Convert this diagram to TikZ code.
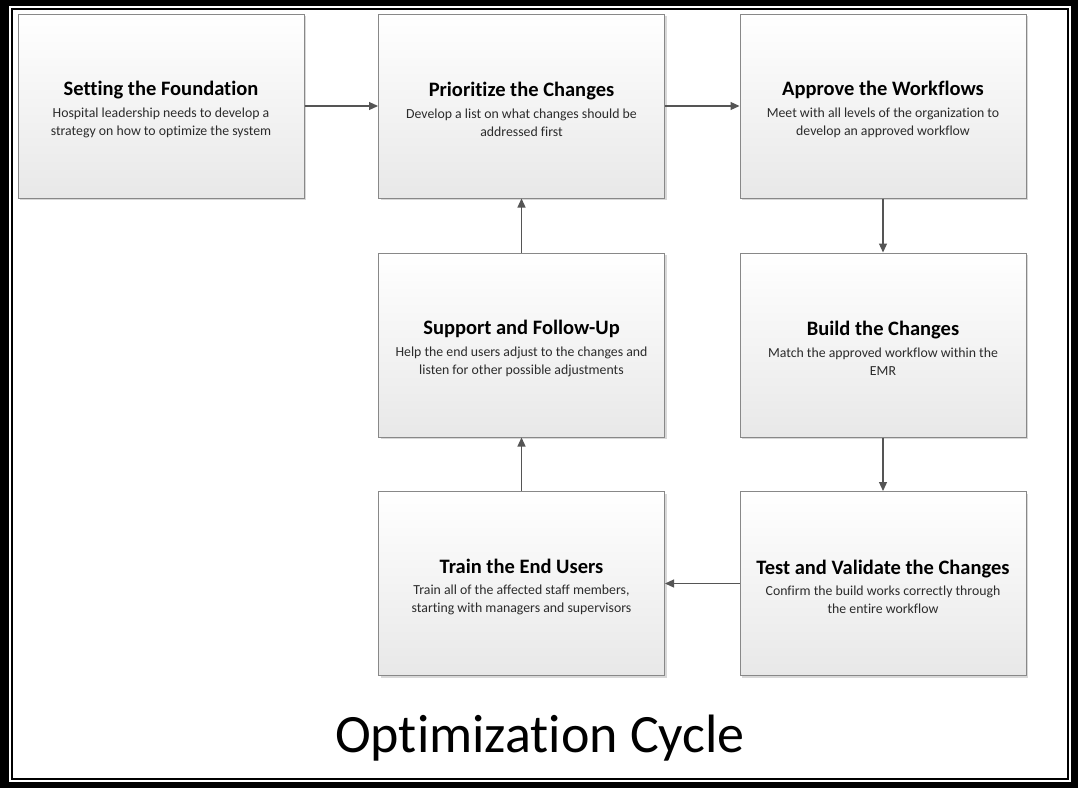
\documentclass[tikz,border=0pt]{standalone}
\usepackage{fontspec}
\setmainfont{Carlito}[Ligatures={NoCommon}]
\usetikzlibrary{arrows.meta,shadows}
\definecolor{boxedge}{HTML}{888888}
\definecolor{boxbot}{HTML}{E8E8E8}
\definecolor{bodytext}{HTML}{2B2B2B}
\definecolor{arrowcol}{HTML}{555555}
\begin{document}
\begin{tikzpicture}[x=1pt,y=-1pt,
  stepbox/.style={draw=boxedge, line width=1pt, top color=white, bottom color=boxbot,
    minimum width=286pt, minimum height=184pt, inner sep=0pt, align=center,
    text=bodytext, font=\fontsize{13.8}{18}\selectfont,
    drop shadow={shadow xshift=2pt, shadow yshift=-2pt, fill=black!30, opacity=0.5}},
  flow/.style={draw=arrowcol, line width=1.2pt, -{Triangle[length=9pt,width=8pt]}}
]
\useasboundingbox (0,0) rectangle (1078,788);
% frame
\fill[black] (0,0) rectangle (1078,788);
\fill[white] (9,6) rectangle (1071,782);
\draw[black, line width=2pt] (12,9) rectangle (1068,778.5);
\newcommand{\ttlf}[1]{{\fontsize{20.5}{22}\selectfont\bfseries\color{black}\rule{0pt}{21pt}#1}}
% boxes
\node[stepbox] (found) at (161,106) {\ttlf{Setting the Foundation}\\[3.5pt]Hospital leadership needs to develop a\\strategy on how to optimize the system};
\node[stepbox] (prio) at (521.5,106) {\ttlf{Prioritize the Changes}\\[3.5pt]Develop a list on what changes should be\\addressed first};
\node[stepbox] (appr) at (883,106) {\ttlf{Approve the Workflows}\\[3.5pt]Meet with all levels of the organization to\\develop an approved workflow};
\node[stepbox] (supp) at (521.5,345) {\ttlf{Support and Follow-Up}\\[3.5pt]Help the end users adjust to the changes and\\listen for other possible adjustments};
\node[stepbox] (build) at (883,345) {\ttlf{Build the Changes}\\[3.5pt]Match the approved workflow within the\\EMR};
\node[stepbox] (train) at (521.5,583.5) {\ttlf{Train the End Users}\\[3.5pt]Train all of the affected staff members,\\starting with managers and supervisors};
\node[stepbox] (test) at (883,583.5) {\ttlf{Test and Validate the Changes}\\[3.5pt]Confirm the build works correctly through\\the entire workflow};
% connectors
\draw[flow] (found) -- (prio);
\draw[flow] (prio) -- (appr);
\draw[flow] (appr) -- (build);
\draw[flow] (build) -- (test);
\draw[flow] (test) -- (train);
\draw[flow] (train) -- (supp);
\draw[flow] (supp) -- (prio);
% caption
\node[anchor=base, font=\fontsize{54}{60}\selectfont, text=black] (cap) at (540,752) {Optimization Cycle};
\end{tikzpicture}
\end{document}
